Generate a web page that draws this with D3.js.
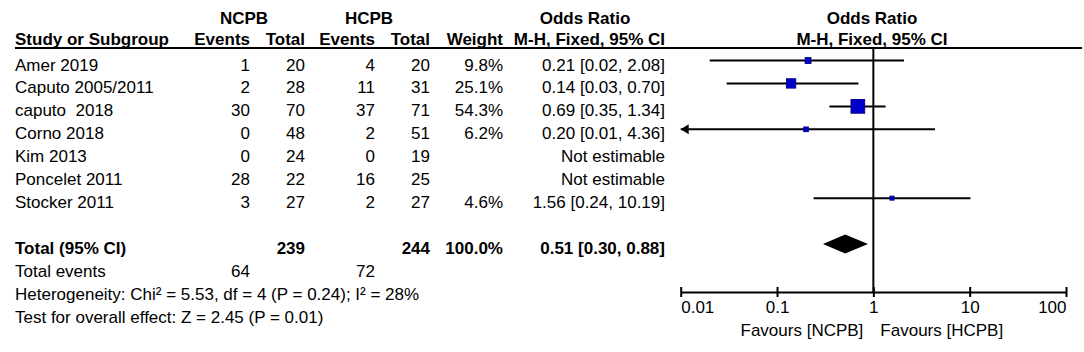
<!DOCTYPE html>
<html>
<head>
<meta charset="utf-8">
<script src="https://cdn.jsdelivr.net/npm/d3@7"></script>
<style>
    body { margin: 0; background: #fff; }
    text { font-family: "Liberation Sans", Arial, sans-serif; font-size: 17px; fill: #000; white-space: pre; }
    .bold { font-weight: bold; }
</style>
</head>
<body>
<div id="graph1"></div>
<script>
var w = 1084;
var h = 352;

// study rows
var studies = ["Amer 2019", "Caputo 2005/2011", "caputo  2018", "Corno 2018", "Kim 2013", "Poncelet 2011", "Stocker 2011"];
var ncpbEvents = [1, 2, 30, 0, 0, 28, 3];
var ncpbTotal = [20, 28, 70, 48, 24, 22, 27];
var hcpbEvents = [4, 11, 37, 2, 0, 16, 2];
var hcpbTotal = [20, 31, 71, 51, 19, 25, 27];
var weights = [9.8, 25.1, 54.3, 6.2, null, null, 4.6];
var oddsRatio = [0.21, 0.14, 0.69, 0.20, null, null, 1.56];
var ciLow = [0.02, 0.03, 0.35, 0.01, null, null, 0.24];
var ciHigh = [2.08, 0.70, 1.34, 4.36, null, null, 10.19];

// pooled result
var totalCounts = [239, 244];
var totalEvents = [64, 72];
var totalWeight = 100.0;
var totalOR = [0.51, 0.30, 0.88];
var heterogeneity = "Heterogeneity: Chi\u00b2 = 5.53, df = 4 (P = 0.24); I\u00b2 = 28%";
var overallEffect = "Test for overall effect: Z = 2.45 (P = 0.01)";

var axisTicks = [0.01, 0.1, 1, 10, 100];
var favours = ["Favours [NCPB]", "Favours [HCPB]"];

var f2 = d3.format(".2f");
var f1 = d3.format(".1f");

var svg = d3.select("#graph1")
    .append("svg")
    .attr("width", w)
    .attr("height", h)
    .append("g");

//Scales
var xScale = d3.scaleLog()
    .domain([0.01, 100])
    .range([680.7, 1066]);

var rowY = d3.scaleLinear()
    .domain([0, 8])
    .range([60.5, 244]);

var sizeScale = d3.scaleSqrt()
    .domain([0, 100])
    .range([0, 18.5]);

var axisY = 292;

// column right edges
var cols = { ncpbE: 250, ncpbT: 305, hcpbE: 375, hcpbT: 430, weight: 503, ci: 665 };

//Header
function label(x, y, txt, anchor, cls) {
    return svg.append("text")
        .attr("x", x)
        .attr("y", y)
        .attr("text-anchor", anchor)
        .attr("class", cls || null)
        .text(txt);
}

label(244, 24, "NCPB", "middle", "bold");
label(369, 24, "HCPB", "middle", "bold");
label(585, 24, "Odds Ratio", "middle", "bold");
label(872, 24, "Odds Ratio", "middle", "bold");

label(15, 45, "Study or Subgroup", "start", "bold");
label(cols.ncpbE, 45, "Events", "end", "bold");
label(cols.ncpbT, 45, "Total", "end", "bold");
label(cols.hcpbE, 45, "Events", "end", "bold");
label(cols.hcpbT, 45, "Total", "end", "bold");
label(cols.weight, 45, "Weight", "end", "bold");
label(cols.ci, 45, "M-H, Fixed, 95% CI", "end", "bold");
label(872, 45, "M-H, Fixed, 95% CI", "middle", "bold");

svg.append("line")
    .attr("x1", 15).attr("x2", 1082)
    .attr("y1", 48).attr("y2", 48)
    .attr("stroke", "#000")
    .attr("stroke-width", 2);

//Study rows
var rows = svg.selectAll(".row")
    .data(studies)
    .enter()
    .append("g")
    .attr("class", "row")
    .attr("transform", function (d, i) { return "translate(0," + (rowY(i) + 10) + ")"; });

rows.append("text").attr("x", 15).text(function (d) { return d; });
rows.append("text").attr("x", cols.ncpbE).attr("text-anchor", "end").text(function (d, i) { return ncpbEvents[i]; });
rows.append("text").attr("x", cols.ncpbT).attr("text-anchor", "end").text(function (d, i) { return ncpbTotal[i]; });
rows.append("text").attr("x", cols.hcpbE).attr("text-anchor", "end").text(function (d, i) { return hcpbEvents[i]; });
rows.append("text").attr("x", cols.hcpbT).attr("text-anchor", "end").text(function (d, i) { return hcpbTotal[i]; });
rows.append("text").attr("x", cols.weight).attr("text-anchor", "end")
    .text(function (d, i) { return weights[i] == null ? "" : f1(weights[i]) + "%"; });
rows.append("text").attr("x", cols.ci).attr("text-anchor", "end")
    .text(function (d, i) {
        if (oddsRatio[i] == null) return "Not estimable";
        return f2(oddsRatio[i]) + " [" + f2(ciLow[i]) + ", " + f2(ciHigh[i]) + "]";
    });

//Total rows
var yTot = rowY(8) + 10;
label(15, yTot, "Total (95% CI)", "start", "bold");
label(cols.ncpbT, yTot, totalCounts[0], "end", "bold");
label(cols.hcpbT, yTot, totalCounts[1], "end", "bold");
label(cols.weight, yTot, f1(totalWeight) + "%", "end", "bold");
label(cols.ci, yTot, f2(totalOR[0]) + " [" + f2(totalOR[1]) + ", " + f2(totalOR[2]) + "]", "end", "bold");

label(15, rowY(9) + 10, "Total events", "start");
label(cols.ncpbE, rowY(9) + 10, totalEvents[0], "end");
label(cols.hcpbE, rowY(9) + 10, totalEvents[1], "end");
label(15, rowY(10) + 10, heterogeneity, "start");
label(15, rowY(11) + 10, overallEffect, "start");

//Line of no effect
svg.append("line")
    .attr("x1", xScale(1)).attr("x2", xScale(1))
    .attr("y1", 48).attr("y2", axisY)
    .attr("stroke", "#000")
    .attr("stroke-width", 2);

//Confidence intervals
var idx = d3.range(studies.length).filter(function (i) { return oddsRatio[i] != null; });
var minX = xScale.domain()[0];

svg.selectAll(".ci")
    .data(idx)
    .enter()
    .append("line")
    .attr("class", "ci")
    .attr("x1", function (i) { return xScale(Math.max(ciLow[i], minX)); })
    .attr("x2", function (i) { return xScale(ciHigh[i]); })
    .attr("y1", function (i) { return rowY(i); })
    .attr("y2", function (i) { return rowY(i); })
    .attr("stroke", "#000")
    .attr("stroke-width", 2);

// arrow where the interval runs off the axis
svg.selectAll(".arrow")
    .data(idx.filter(function (i) { return ciLow[i] <= minX; }))
    .enter()
    .append("path")
    .attr("class", "arrow")
    .attr("d", function (i) {
        var x = xScale(minX), y = rowY(i);
        return "M" + x + "," + y + "L" + (x + 8) + "," + (y - 5) + "L" + (x + 8) + "," + (y + 5) + "Z";
    })
    .attr("fill", "#000");

//Weight squares
svg.selectAll(".box")
    .data(idx)
    .enter()
    .append("rect")
    .attr("class", "box")
    .attr("x", function (i) { return xScale(oddsRatio[i]) - sizeScale(weights[i]) / 2; })
    .attr("y", function (i) { return rowY(i) - sizeScale(weights[i]) / 2; })
    .attr("width", function (i) { return sizeScale(weights[i]); })
    .attr("height", function (i) { return sizeScale(weights[i]); })
    .attr("fill", "#0000cc")
    .attr("stroke", "#00008b")
    .attr("stroke-width", 1);

//Pooled diamond
var dy = 9.5;
svg.append("path")
    .attr("d", "M" + xScale(totalOR[1]) + "," + rowY(8) +
        "L" + xScale(totalOR[0]) + "," + (rowY(8) - dy) +
        "L" + xScale(totalOR[2]) + "," + rowY(8) +
        "L" + xScale(totalOR[0]) + "," + (rowY(8) + dy) + "Z")
    .attr("fill", "#000");

//Create X axis
var xAxis = d3.axisBottom()
    .scale(xScale)
    .tickValues(axisTicks)
    .tickSizeOuter(0)
    .tickFormat(function (d) { return d3.format("~g")(d); });

var gAxis = svg.append("g")
    .attr("class", "axis")
    .attr("transform", "translate(0," + axisY + ")")
    .call(xAxis);

gAxis.select(".domain").attr("stroke-width", 2);
gAxis.selectAll(".tick line").attr("y1", -5).attr("y2", 5).attr("stroke-width", 2);
gAxis.selectAll(".tick text")
    .attr("y", 21)
    .attr("dy", null)
    .style("font-family", "'Liberation Sans', Arial, sans-serif")
    .style("font-size", "17px")
    .attr("fill", "#000")
    .attr("text-anchor", function (d, i) {
        if (i == 0) return "start";
        if (i == axisTicks.length - 1) return "end";
        return "middle";
    });

label(xScale(1) - 10, 336, favours[0], "end");
label(xScale(1) + 7, 336, favours[1], "start");
</script>
</body>
</html>
